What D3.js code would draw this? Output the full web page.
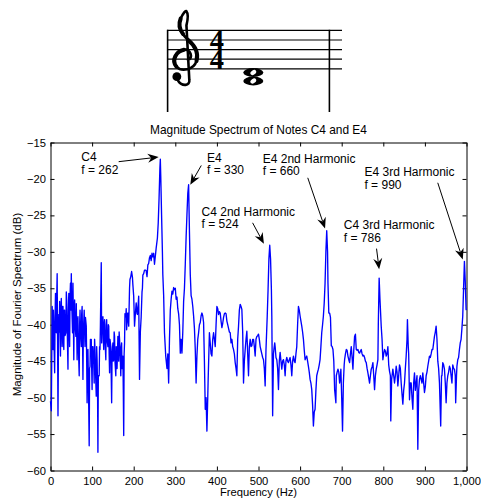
<!DOCTYPE html>
<html>
<head>
<meta charset="utf-8">
<script src="https://d3js.org/d3.v7.min.js"></script>
<style>
  body { margin: 0; background: #fff; }
  svg { display: block; }
</style>
</head>
<body>
<div id="chart"></div>
<script>
// spectrum: frequency (Hz) and magnitude (dB)
const freqs = [0,2,4,5,6,7,8,9,10,11,12,13,14,15,16,17,18,19,20,21,22,23,24,25,26,27,28,29,30,31,32,33,34,35,37,38,39,40,
  42,43,44,45,46,47,48,49,50,51,53,54,55,56,57,58,59,61,62,63,64,65,66,67,69,70,71,72,74,75,76,77,78,79,81,82,83,84,86,87,88,89,
  90,91,93,94,95,96,98,99,100,101,102,104,105,106,107,108,110,111,112,113,114,115,117,118,119,120,122,123,124,126,127,128,129,
  130,131,133,134,135,136,138,139,140,141,142,143,145,146,147,148,150,151,152,153,154,155,157,158,159,160,162,163,164,165,166,
  168,169,170,171,172,174,175,176,177,178,179,181,182,183,185,186,187,188,190,191,193,195,197,198,200,202,204,206,208,209,211,
  212,213,214,216,218,220,221,222,224,226,228,230,232,234,236,238,240,242,244,246,248,250,252,254,257,259,261,263,264,265,267,
  269,270,272,274,277,280,282,284,286,288,290,292,294,296,298,300,302,304,306,308,310,312,314,316,318,320,322,324,326,328,330,
  332,334,336,338,340,342,344,346,348,350,352,354,356,358,360,362,364,366,368,370,372,374,376,378,379,382,384,386,388,390,392,
  394,396,398,400,402,404,406,408,410,412,414,416,418,420,422,424,426,428,430,432,434,436,438,440,442,444,446,448,450,452,454,
  456,458,460,462,464,466,468,470,472,474,476,478,480,482,484,486,488,490,492,494,496,498,500,502,504,506,508,510,512,514,516,
  518,521,523,525,527,529,531,532,534,536,537,539,540,542,544,546,548,550,552,554,556,558,560,562,564,566,568,570,572,574,576,
  578,580,582,584,586,588,590,592,594,596,598,600,602,604,606,608,610,612,614,616,618,620,622,624,626,628,630,632,634,636,638,
  640,642,644,646,648,650,652,654,656,658,660,662,664,666,667,669,671,673,675,677,679,681,683,686,687,689,691,693,695,697,698,
  700,702,704,706,707,709,711,713,715,717,719,721,723,725,727,729,731,733,735,737,739,741,743,745,747,749,751,753,755,757,759,
  761,763,765,767,769,771,773,775,777,779,781,783,785,787,788,790,791,792,795,797,799,801,803,805,807,809,811,813,815,817,818,
  820,823,825,827,829,831,833,835,837,839,841,843,845,847,849,851,853,855,857,858,860,861,863,865,867,869,871,873,875,877,879,
  881,883,885,887,889,891,893,895,897,899,901,903,905,907,909,911,913,915,917,919,921,923,925,927,929,931,933,935,938,940,941,
  943,945,947,949,951,953,955,957,959,961,963,965,967,969,971,973,974,976,977,979,981,983,985,987,989,991,993,995,997,999,1000];
const magsDb = [-50.5,-51.8,-37.5,-43,-43.4,-38,-40.2,-44,-46.6,-39,-35.7,-41,-41.1,-36,-33,-42,-52.5,-44,-38.6,-41,-36.8,-40,-44.3,-38,-36.4,-40,-43,-37.5,-37.5,-42,-43.4,-38,-38,-41.5,-41.1,-35.5,-36.6,-40,
  -46.1,-38,-35.7,-39,-43,-36,-34.3,-38,-33,-37,-41.1,-34.3,-39,-44.8,-38,-36.6,-40,-41.6,-37.1,-41,-44.8,-40,-38.9,-43,-47,-40,-38,-41,-43,-38.5,-37.5,-42,-47.5,-41,-38,-41,-43,-39,-40.2,-45,-50.7,-44,
  -43.4,-47,-56.6,-46,-45.7,-42,-42,-46,-48.9,-43,-43,-45.5,-48,-42,-43.4,-46,-49.8,-43,-44.8,-48,-57.5,-47,-47,-43,-43.4,-40,-31.5,-42.5,-40,-38.9,-42,-43.4,-40,
  -39.3,-42,-44.8,-40,-39.3,-42,-43,-40,-40.2,-44,-46.6,-42,-43,-47,-50.7,-44,-42.5,-45,-44.8,-41,-41.6,-45,-47,-43,-43.4,-46,-41.6,-44,-45,-41,-42,
  -45,-47,-43,-42.5,-46,-44.3,-49,-55.2,-44,-42.5,-38.5,-38.9,-37.8,-40.7,-38.5,-38.4,-39.5,-40.2,-35,-33.8,-33.4,-32.7,-33.5,-34.5,-36.1,-40.2,-38.5,-37,-38.5,-38.6,-37,
  -36.1,-42,-47.5,-41,-38.9,-35.5,-35,-33.2,-33,-32.5,-32.5,-32.6,-33.4,-31.8,-31.6,-30.8,-30.5,-31.2,-30.2,-30.7,-30.2,-31.7,-30.6,-29.5,-28.1,-26,-22.6,-18.5,-17.3,-19.5,-24.9,
  -30,-33.1,-36,-41.1,-44.3,-46,-44,-48,-42,-38,-36.5,-35.4,-35.8,-34.9,-35.2,-35,-36.5,-36.2,-37.8,-38.5,-40,-43.9,-42,-43.9,-41,-36.8,-35,-31.7,-28,-24.9,-22,
  -20.8,-27.2,-33.1,-36,-36.5,-37.5,-38.8,-40.5,-43.4,-48,-44.3,-42,-41.1,-40,-39.7,-38.8,-38.4,-38.8,-39.7,-45,-51.6,-50,-54.6,-50,-47.5,-41.1,-42.5,-44,-44.3,-42,-41.1,
  -42,-43,-40,-37.5,-37.8,-38.6,-38.2,-38.4,-39.5,-40.4,-39.8,-39,-38.5,-38.4,-38.5,-39.5,-40,-40.5,-41,-41.1,-42.5,-42,-43,-43.4,-44,-45.2,-46,-47,-42,-40.2,-38,
  -37.2,-37.5,-37.9,-41,-48,-45,-43.4,-42,-40.9,-44,-47,-43,-42,-43,-42.9,-42,-42,-43,-44.3,-42,-41.6,-41.5,-41.3,-42,-43,-43.5,-44,-44.5,-44.8,-46,-48.4,
  -43.4,-38.8,-35.2,-31,-29.1,-31,-35.2,-38.8,-52.5,-44,-43.4,-42.5,-43,-44.5,-44.8,-46,-48.9,-45,-43.8,-45,-46.1,-45,-44.8,-45.5,-47,-45,-44.5,-45,-45.2,-44.8,-44.5,
  -45.5,-47,-45,-44.3,-45,-45.2,-44,-43,-40,-37.5,-38,-38.8,-39.5,-40.2,-41,-42,-43.5,-44.8,-44.5,-44.3,-45,-45.7,-46.5,-47.5,-48,-48.9,-51,-53.9,-52,-51.6,-49,
  -47,-46.5,-46.1,-45.5,-44.8,-43,-41.1,-40,-38.8,-37,-34.3,-30,-27.1,-30,-34.3,-38.4,-38.4,-39,-42.9,-43,-43.4,-45,-48.9,-50.7,-47,-46.5,-46.1,-46.5,-48,-47,-46.1,
  -50,-54.6,-48,-45.5,-44.8,-44,-43.4,-43.5,-44.3,-44.8,-45.2,-44,-43,-44.5,-46.1,-43.5,-41.6,-41.3,-43.4,-43.5,-43.4,-43.8,-43.9,-43.6,-43.4,-44,-44.3,-44.2,-44.5,-45,-45.2,
  -46,-46.6,-47.3,-48,-47,-46.1,-45.8,-45.2,-47,-48.9,-47,-46.1,-45.5,-44.8,-40,-33.6,-35,-36.5,-40.2,-42,-44.8,-44,-43.4,-43.6,-44.3,-44,-43,-45.5,-46.4,-47,-53.2,
  -47.5,-46.1,-47,-48,-47,-45.7,-46.5,-48.4,-47,-45.5,-46,-48,-49.5,-50.9,-49,-48,-46,-44.3,-42,-39.3,-43,-44,-50.3,-48,-48,-50,-51.6,-48,-46.6,-49,-48,
  -47,-57.1,-49,-47.5,-47,-47.5,-48,-46.6,-48,-49.3,-48.5,-47,-46.5,-45.7,-45,-44.3,-44.5,-44,-43.4,-43.4,-42.5,-41.6,-41,-40.2,-42,-45,-46,-48,-53.9,-47,-47,
  -45.2,-45.5,-46.1,-48,-50.7,-48,-47,-46.5,-45.7,-46,-47,-48,-45.5,-46,-46.1,-47,-50.7,-47,-45.7,-44.8,-44.5,-43.4,-42.5,-42,-40.5,-38.8,-35,-31.3,-34,-37.9,-38];

const xTickValues = [0, 100, 200, 300, 400, 500, 600, 700, 800, 900, 1000];
const yTickValues = [-60, -55, -50, -45, -40, -35, -30, -25, -20, -15];

// annotated peaks: label, frequency label, and the point the arrow points at
const noteNames = ["C4", "E4", "C4 2nd Harmonic", "E4 2nd Harmonic", "C4 3rd Harmonic", "E4 3rd Harmonic"];
const noteFreqs = [262, 330, 524, 660, 786, 990];
const arrowHz = [260, 336, 513, 660, 790, 991];
const arrowDb = [-17, -20.8, -28.9, -26.8, -32.4, -31.05];

const width = 481, height = 502;
const font = "'Liberation Sans', Arial, Helvetica, sans-serif";

const svg = d3.select("#chart").append("svg")
    .attr("width", width)
    .attr("height", height)
    .attr("viewBox", `0 0 ${width} ${height}`);

svg.append("rect").attr("width", width).attr("height", height).attr("fill", "#fff");

// ---------- staff ----------
const staff = svg.append("g");
const staffTop = 30.4, gap = 9.6;
for (let i = 0; i < 5; i++) {
    staff.append("line")
        .attr("x1", 167).attr("x2", 342)
        .attr("y1", staffTop + i * gap).attr("y2", staffTop + i * gap)
        .attr("stroke", "#000").attr("stroke-width", 1.2);
}
[167.6, 329.4].forEach(x => {
    staff.append("line")
        .attr("x1", x).attr("x2", x)
        .attr("y1", staffTop - 0.6).attr("y2", 112)
        .attr("stroke", "#000").attr("stroke-width", 1.6);
});

// treble clef, drawn in staff-space units around the spiral centre
const clef = staff.append("g").attr("transform", `translate(185,57) scale(${gap})`);
clef.append("path")
    .attr("d", "M0.3 0.3 C0.9 0.2 0.6 -0.9 -0.1 -0.75 C-0.9 -0.6 -1.45 0.3 -0.9 1.0 " +
        "C-0.4 1.55 0.9 1.4 1.2 0.4 C1.45 -0.5 0.9 -1.3 0.3 -1.8 C-0.5 -2.5 -0.75 -3.3 -0.45 -4.0 " +
        "C-0.2 -4.6 0.1 -4.9 0.15 -4.75 C0.35 -4.5 0.3 -3.9 0.15 -3.3 L0.45 2.4 " +
        "C0.55 3.0 -0.3 3.1 -0.7 2.5")
    .attr("fill", "none")
    .attr("stroke", "#000")
    .attr("stroke-width", 0.27)
    .attr("stroke-linecap", "round");
// heavier strokes on the outer body and the upper left arm
clef.append("path")
    .attr("d", "M-0.9 1.0 C-1.45 0.3 -0.9 -0.6 -0.1 -0.75 M1.2 0.4 C1.45 -0.5 0.9 -1.3 0.3 -1.8 " +
        "M-0.2 -2.4 C-0.6 -2.9 -0.7 -3.4 -0.45 -4.0")
    .attr("fill", "none")
    .attr("stroke", "#000")
    .attr("stroke-width", 0.42)
    .attr("stroke-linecap", "round");
clef.append("circle").attr("cx", -0.85).attr("cy", 2.05).attr("r", 0.46).attr("fill", "#000");

// time signature
const timeSig = staff.append("text")
    .attr("text-anchor", "middle")
    .attr("font-family", "'Liberation Serif', 'Times New Roman', serif")
    .attr("font-weight", "bold")
    .attr("font-size", 28.5);
["4", "4"].forEach((t, i) => {
    timeSig.append("tspan")
        .attr("x", 216.8).attr("y", staffTop + gap * 2 * (i + 1) + 0.2)
        .text(t);
});

// whole-note chord
[72.5, 81].forEach(cy => {
    staff.append("ellipse").attr("cx", 253.3).attr("cy", cy).attr("rx", 10).attr("ry", 4.4).attr("fill", "#000");
    staff.append("ellipse").attr("cx", 253.3).attr("cy", cy).attr("rx", 3.2).attr("ry", 2.1)
        .attr("transform", `rotate(-35,253.3,${cy})`).attr("fill", "#fff");
});

// ---------- spectrum plot ----------
const x = d3.scaleLinear().domain([0, 1000]).range([50.5, 466.5]);
const y = d3.scaleLinear().domain([-60, -15]).range([470.5, 142.5]);

function styleAxis(g) {
    g.attr("font-family", font).attr("font-size", 11.2);
    g.selectAll("path.domain").attr("stroke", "#000").attr("stroke-width", 1);
    g.selectAll(".tick line").attr("stroke", "#000");
    g.selectAll(".tick text").attr("fill", "#000");
}

svg.append("g").attr("transform", `translate(0,${y(-60)})`)
    .call(d3.axisBottom(x).tickValues(xTickValues).tickSizeInner(-4).tickSizeOuter(0).tickPadding(6.5))
    .call(styleAxis);
svg.append("g").attr("transform", `translate(0,${y(-15)})`)
    .call(d3.axisTop(x).tickValues(xTickValues).tickSizeInner(-4).tickSizeOuter(0).tickFormat(""))
    .call(styleAxis);
svg.append("g").attr("transform", `translate(${x(0)},0)`)
    .call(d3.axisLeft(y).tickValues(yTickValues).tickSizeInner(-4).tickSizeOuter(0).tickPadding(4.5))
    .call(styleAxis);
svg.append("g").attr("transform", `translate(${x(1000)},0)`)
    .call(d3.axisRight(y).tickValues(yTickValues).tickSizeInner(-4).tickSizeOuter(0).tickFormat(""))
    .call(styleAxis);

const spectrum = freqs.map((f, i) => [f, magsDb[i]]);
svg.append("path")
    .datum(spectrum)
    .attr("fill", "none")
    .attr("stroke", "#0000ff")
    .attr("stroke-width", 1.35)
    .attr("stroke-linejoin", "round")
    .attr("d", d3.line().x(d => x(d[0])).y(d => y(d[1])));

// titles
svg.append("text")
    .attr("x", (x(0) + x(1000)) / 2).attr("y", 133.5)
    .attr("text-anchor", "middle").attr("font-family", font).attr("font-size", 11.9)
    .text("Magnitude Spectrum of Notes C4 and E4");
svg.append("text")
    .attr("x", (x(0) + x(1000)) / 2).attr("y", 496)
    .attr("text-anchor", "middle").attr("font-family", font).attr("font-size", 11.2)
    .text("Frequency (Hz)");
svg.append("text")
    .attr("transform", `translate(20.5,${(y(-15) + y(-60)) / 2 - 2}) rotate(-90)`)
    .attr("text-anchor", "middle").attr("font-family", font).attr("font-size", 11.5)
    .text("Magnitude of Fourier Spectrum (dB)");

// ---------- annotations ----------
// offsets (px) of label and arrow tail from the arrow tip
const annLayout = [
    { tx: -77.3, ty: 4.3, ax: -40, ay: 4.6 },
    { tx: 16.7, ty: -23, ax: 11, ay: -19.3 },
    { tx: -62.3, ty: -28.3, ax: -11.3, ay: -21 },
    { tx: -62.3, ty: -65.7, ax: -17.3, ay: -50.7 },
    { tx: -35.3, ty: -40, ax: -2.6, ay: -20.7 },
    { tx: -98.3, ty: -83.3, ax: -25, ay: -76.7 }
];

const ann = svg.append("g");
noteNames.forEach((name, i) => {
    const L = annLayout[i];
    const tipX = x(arrowHz[i]), tipY = y(arrowDb[i]);
    const fromX = tipX + L.ax, fromY = tipY + L.ay;
    const ang = Math.atan2(tipY - fromY, tipX - fromX);
    const ux = Math.cos(ang), uy = Math.sin(ang);
    const len = 11, half = 4.5, notch = 3.5;
    const bx = tipX - len * ux, by = tipY - len * uy;
    const nx = tipX - (len - notch) * ux, ny = tipY - (len - notch) * uy;

    ann.append("line")
        .attr("x1", fromX).attr("y1", fromY).attr("x2", nx).attr("y2", ny)
        .attr("stroke", "#000").attr("stroke-width", 1);
    ann.append("path")
        .attr("d", `M${tipX},${tipY}L${bx - half * uy},${by + half * ux}L${nx},${ny}L${bx + half * uy},${by - half * ux}Z`)
        .attr("fill", "#000");

    const t = ann.append("text")
        .attr("font-family", font).attr("font-size", 12)
        .attr("x", tipX + L.tx).attr("y", tipY + L.ty);
    t.append("tspan").attr("x", tipX + L.tx).text(name);
    t.append("tspan").attr("x", tipX + L.tx).attr("dy", 12.5).text("f = " + noteFreqs[i]);
});
</script>
</body>
</html>
